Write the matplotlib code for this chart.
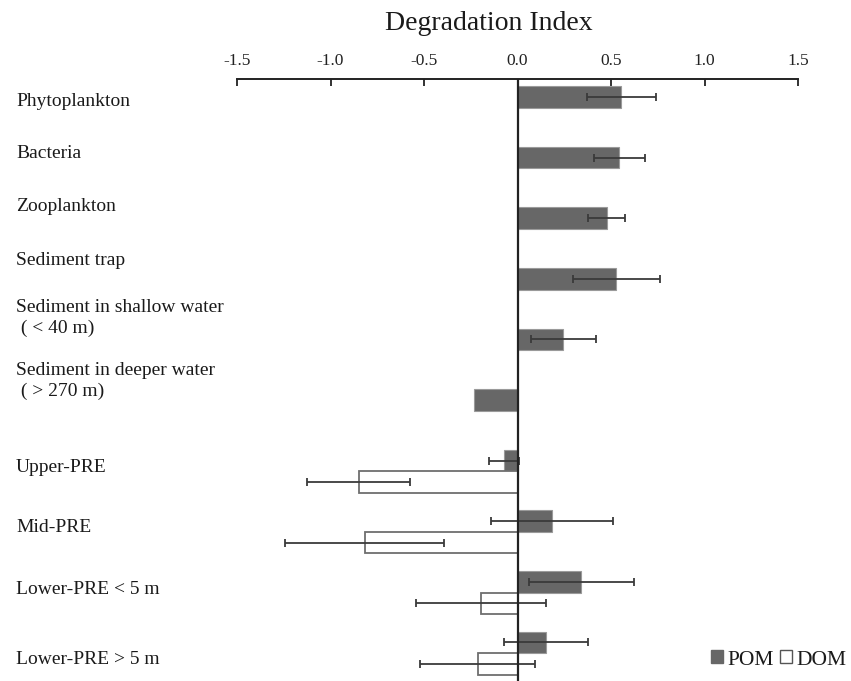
import numpy as np
import matplotlib
matplotlib.use("Agg")
import matplotlib.pyplot as plt
from matplotlib.patches import Patch

plt.rcParams['font.family'] = ['Liberation Serif', 'DejaVu Serif']

# ---------------- data ----------------
categories = ["Phytoplankton", "Bacteria", "Zooplankton", "Sediment trap",
              "Sediment in shallow water\n ( < 40 m)",
              "Sediment in deeper water\n ( > 270 m)",
              "Upper-PRE", "Mid-PRE", "Lower-PRE < 5 m", "Lower-PRE > 5 m"]
pom_values = [0.556, 0.544, 0.476, 0.528, 0.245, -0.235, -0.072, 0.185, 0.342, 0.152]
pom_errors = [0.187, 0.137, 0.097, 0.233, 0.173, np.nan, 0.082, 0.327, 0.279, 0.223]
dom_values = [np.nan] * 6 + [-0.850, -0.818, -0.195, -0.213]
dom_errors = [np.nan] * 6 + [0.276, 0.424, 0.347, 0.308]
xticks = [-1.5, -1.0, -0.5, 0.0, 0.5, 1.0, 1.5]
xtick_labels = ["-1.5", "-1.0", "-0.5", "0.0", "0.5", "1.0", "1.5"]

# ---------------- layout ----------------
bar_h = 0.355
label_y_px = [102, 154, 207, 260, 318, 381, 468, 528, 589, 659]

fig = plt.figure(figsize=(8.51, 6.81), dpi=100)
W, H = 851, 681
ax = fig.add_axes([237 / W, 0, (798 - 237) / W, 1 - 79 / H])

pos = np.arange(len(categories), dtype=float)
pom = np.array(pom_values)
pome = np.array(pom_errors)
dom = np.array(dom_values)
dome = np.array(dom_errors)

ax.barh(pos, pom, height=bar_h, color='#676767', edgecolor='#9a9a9a', linewidth=0.8, zorder=2)
m = ~np.isnan(dom)
ax.barh(pos[m] + bar_h, dom[m], height=bar_h, color='white', edgecolor='#6e6e6e', linewidth=1.3, zorder=2)

ek = dict(fmt='none', ecolor='#3a3a3a', elinewidth=1.3, capsize=3, capthick=1.3, zorder=4)
mp = ~np.isnan(pome)
ax.errorbar(pom[mp], pos[mp], xerr=pome[mp], **ek)
ax.errorbar(dom[m], pos[m] + bar_h, xerr=dome[m], **ek)

ax.axvline(0, color='#222222', lw=1.6, zorder=5)

ax.set_xlim(-1.5, 1.5)
ax.set_ylim((681 - 97) / 60.6, (79 - 97) / 60.6)
ax.xaxis.tick_top()
ax.set_xticks(xticks)
ax.set_xticklabels(xtick_labels)
ax.tick_params(axis='x', direction='in', length=5, width=1.3, color='#222222',
               labelsize=12.5, pad=7, labelcolor='#222222')
ax.set_yticks([])
for s in ['left', 'right', 'bottom']:
    ax.spines[s].set_visible(False)
ax.spines['top'].set_linewidth(1.4)
ax.spines['top'].set_color('#222222')
ax.patch.set_alpha(0)

# category labels
for lab, ypx in zip(categories, label_y_px):
    fig.text(16 / W, 1 - ypx / H, lab, fontsize=14, color='#1a1a1a',
             ha='left', va='center', linespacing=1.35)

fig.text(489 / W, 1 - 23 / H, "Degradation Index", fontsize=20, color='#1a1a1a',
         ha='center', va='center')

handles = [Patch(facecolor='#676767', edgecolor='#676767'),
           Patch(facecolor='white', edgecolor='#555555', linewidth=1.0)]
fig.legend(handles, ["POM", "DOM"], loc='center right', bbox_to_anchor=(857 / W, 1 - 660 / H),
           ncol=2, frameon=False, fontsize=15.5, handlelength=0.55, handleheight=0.55,
           handletextpad=0.2, columnspacing=0.3, borderpad=0, labelcolor='#1a1a1a')

fig.savefig("out.png", dpi=100)
